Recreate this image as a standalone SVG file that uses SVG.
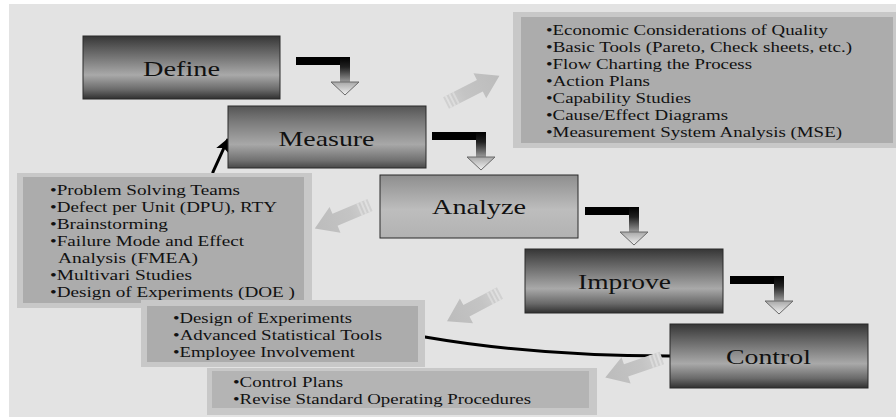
<svg xmlns="http://www.w3.org/2000/svg" width="896" height="417" viewBox="0 0 896 417">
  <defs>
    <style>
      .stage text { font-family: "Liberation Serif", "Times New Roman", serif; fill: #111111; text-anchor: middle; font-size: 22px; }
      .info text { font-family: "Liberation Serif", "Times New Roman", serif; fill: #111111; font-size: 14.5px; }
      .stage rect { stroke: #2a2a2a; stroke-width: 1; }
      .outer { fill: #c8c8c8; }
      .inner { fill: #acacac; }
      .head { fill: url(#headGrad); stroke: #6a6a6a; stroke-width: 1; }
    </style>
    <linearGradient id="darkGrad" x1="0" y1="0" x2="0" y2="1">
      <stop offset="0" stop-color="#363636"/>
      <stop offset="0.2" stop-color="#5c5c5c"/>
      <stop offset="0.62" stop-color="#a9a9a9"/>
      <stop offset="0.85" stop-color="#6a6a6a"/>
      <stop offset="1" stop-color="#303030"/>
    </linearGradient>
    <linearGradient id="midGrad" x1="0" y1="0" x2="0" y2="1">
      <stop offset="0" stop-color="#555555"/>
      <stop offset="0.25" stop-color="#7a7a7a"/>
      <stop offset="0.62" stop-color="#a8a8a8"/>
      <stop offset="0.88" stop-color="#707070"/>
      <stop offset="1" stop-color="#484848"/>
    </linearGradient>
    <linearGradient id="lightGrad" x1="0" y1="0" x2="0" y2="1">
      <stop offset="0" stop-color="#8e8e8e"/>
      <stop offset="0.55" stop-color="#bdbdbd"/>
      <stop offset="1" stop-color="#b2b2b2"/>
    </linearGradient>
    <linearGradient id="shaftGrad" x1="0" y1="0" x2="0" y2="1">
      <stop offset="0" stop-color="#000000"/>
      <stop offset="0.4" stop-color="#202020"/>
      <stop offset="1" stop-color="#9a9a9a"/>
    </linearGradient>
    <linearGradient id="headGrad" x1="0" y1="0" x2="0" y2="1">
      <stop offset="0" stop-color="#a8a8a8"/>
      <stop offset="1" stop-color="#f2f2f2"/>
    </linearGradient>
    <linearGradient id="blockGrad" x1="0" y1="0" x2="1" y2="0">
      <stop offset="0" stop-color="#d2d2d2"/>
      <stop offset="0.35" stop-color="#c4c4c4"/>
      <stop offset="1" stop-color="#bcbcbc"/>
    </linearGradient>
    <!-- wide grey block arrow, tail at origin, pointing along +x -->
    <g id="blockArrow">
      <polygon points="0,-6.5 38,-6.5 38,-14 60,0 38,14 38,6.5 0,6.5" fill="url(#blockGrad)"/>
      <rect x="2" y="-6.5" width="2" height="13" fill="#e4e4e4" opacity="0.8"/>
      <rect x="6" y="-6.5" width="2" height="13" fill="#e4e4e4" opacity="0.7"/>
      <rect x="10" y="-6.5" width="2" height="13" fill="#e4e4e4" opacity="0.6"/>
    </g>
    <!-- elbow connector: black bar, fading drop, open head -->
    <g id="elbow">
      <rect x="0" y="0" width="54" height="8" fill="#000"/>
      <rect x="44" y="0" width="10" height="25" fill="url(#shaftGrad)"/>
      <polygon class="head" points="35,25 63,25 49,38"/>
    </g>
    <marker id="tip" viewBox="0 0 14 14" refX="13" refY="7" markerWidth="14" markerHeight="14" markerUnits="userSpaceOnUse" orient="auto">
      <path d="M0,0 L14,7 L0,14 L3,7 Z" fill="#000"/>
    </marker>
  </defs>

  <!-- canvas -->
  <rect width="896" height="417" fill="#ffffff"/>
  <rect x="9" y="4" width="887" height="413" fill="#e3e3e3"/>

  <!-- connectors -->
  <g id="connectors">
    <path d="M670,356 C590,356 500,350 425,337 C370,328 330,314 300,300 C240,262 205,215 213,172 L228,139" fill="none" stroke="#000" stroke-width="3" marker-end="url(#tip)"/>
    <use href="#elbow" transform="translate(296,57)"/>
    <use href="#elbow" transform="translate(432,132)"/>
    <use href="#elbow" transform="translate(585,207)"/>
    <use href="#elbow" transform="translate(730,276)"/>
  </g>

  <!-- tool lists -->
  <g id="measure-tools" class="info">
    <rect class="outer" x="513" y="12" width="383" height="136"/>
    <rect class="inner" x="521" y="17" width="372" height="126"/>
    <text x="546" y="35" font-size="14" textLength="282" lengthAdjust="spacingAndGlyphs">•Economic Considerations of Quality</text>
    <text x="546" y="52" font-size="14" textLength="306" lengthAdjust="spacingAndGlyphs">•Basic Tools (Pareto, Check sheets, etc.)</text>
    <text x="546" y="69" font-size="14" textLength="206" lengthAdjust="spacingAndGlyphs">•Flow Charting the Process</text>
    <text x="546" y="86" font-size="14" textLength="104" lengthAdjust="spacingAndGlyphs">•Action Plans</text>
    <text x="546" y="103" font-size="14" textLength="145" lengthAdjust="spacingAndGlyphs">•Capability Studies</text>
    <text x="546" y="120" font-size="14" textLength="182" lengthAdjust="spacingAndGlyphs">•Cause/Effect Diagrams</text>
    <text x="546" y="137" font-size="14" textLength="296" lengthAdjust="spacingAndGlyphs">•Measurement System Analysis (MSE)</text>
  </g>

  <g id="analyze-tools" class="info">
    <rect class="outer" x="17" y="173" width="295" height="135"/>
    <rect class="inner" x="23" y="177" width="281" height="126"/>
    <text x="50" y="195" font-size="15.5" textLength="190" lengthAdjust="spacingAndGlyphs">•Problem Solving Teams</text>
    <text x="50" y="212" font-size="15.5" textLength="227" lengthAdjust="spacingAndGlyphs">•Defect per Unit (DPU), RTY</text>
    <text x="50" y="229" font-size="15.5" textLength="118" lengthAdjust="spacingAndGlyphs">•Brainstorming</text>
    <text x="50" y="246" font-size="15.5" textLength="194" lengthAdjust="spacingAndGlyphs">•Failure Mode and Effect</text>
    <text x="58" y="263" font-size="15.5" textLength="140" lengthAdjust="spacingAndGlyphs">Analysis  (FMEA)</text>
    <text x="50" y="280" font-size="15.5" textLength="142" lengthAdjust="spacingAndGlyphs">•Multivari Studies</text>
    <text x="50" y="297" font-size="15.5" textLength="245" lengthAdjust="spacingAndGlyphs">•Design of Experiments (DOE )</text>
  </g>

  <g id="improve-tools" class="info">
    <rect class="outer" x="141" y="300" width="284" height="67"/>
    <rect class="inner" x="147" y="306" width="271" height="56" fill="#afafaf"/>
    <text x="173" y="323" textLength="179" lengthAdjust="spacingAndGlyphs">•Design of Experiments</text>
    <text x="173" y="340" textLength="209" lengthAdjust="spacingAndGlyphs">•Advanced Statistical Tools</text>
    <text x="173" y="357" textLength="182" lengthAdjust="spacingAndGlyphs">•Employee Involvement</text>
  </g>

  <g id="control-tools" class="info">
    <rect class="outer" x="207" y="368" width="390" height="47" fill="#cbcbcb"/>
    <rect class="inner" x="212" y="371" width="377" height="37" style="fill:#b4b4b4"/>
    <text x="233" y="387" textLength="110" lengthAdjust="spacingAndGlyphs">•Control Plans</text>
    <text x="233" y="404" textLength="298" lengthAdjust="spacingAndGlyphs">•Revise Standard Operating Procedures</text>
  </g>

  <!-- grey arrows pointing at the tool lists -->
  <g id="tool-arrows">
    <use href="#blockArrow" transform="translate(446,103) rotate(-27)"/>
    <use href="#blockArrow" transform="translate(370,205) rotate(157)"/>
    <use href="#blockArrow" transform="translate(500,293) rotate(152)"/>
    <use href="#blockArrow" transform="translate(662,358) rotate(161)"/>
  </g>

  <!-- DMAIC stages -->
  <g id="define" class="stage">
    <rect x="83" y="36" width="197" height="63" fill="url(#darkGrad)"/>
    <text x="181.5" y="76" textLength="77" lengthAdjust="spacingAndGlyphs">Define</text>
  </g>
  <g id="measure" class="stage">
    <rect x="228" y="106" width="198" height="62" fill="url(#midGrad)"/>
    <text x="326.5" y="146" textLength="96" lengthAdjust="spacingAndGlyphs">Measure</text>
  </g>
  <g id="analyze" class="stage">
    <rect x="380" y="175" width="198" height="63" fill="url(#lightGrad)"/>
    <text x="479" y="214" textLength="94" lengthAdjust="spacingAndGlyphs">Analyze</text>
  </g>
  <g id="improve" class="stage">
    <rect x="525" y="249" width="198" height="64" fill="url(#darkGrad)"/>
    <text x="624.5" y="289" textLength="93" lengthAdjust="spacingAndGlyphs">Improve</text>
  </g>
  <g id="control" class="stage">
    <rect x="670" y="324" width="198" height="64" fill="url(#darkGrad)"/>
    <text x="768.5" y="364" textLength="85" lengthAdjust="spacingAndGlyphs">Control</text>
  </g>
</svg>
